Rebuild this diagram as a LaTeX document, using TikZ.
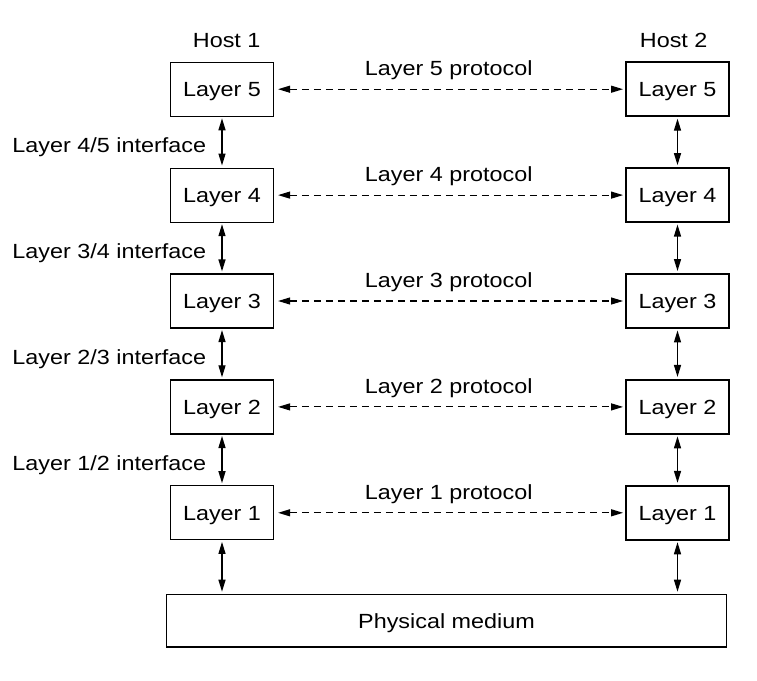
\documentclass[tikz,border=0pt]{standalone}
\usepackage{fontspec}
\setmainfont[FakeStretch=1.14]{Liberation Sans}
\usetikzlibrary{arrows.meta}
\begin{document}
\begin{tikzpicture}[x=1pt,y=-1pt,
  font=\fontsize{20.5}{24}\selectfont,
  layerbox/.style={draw, line width=1.2pt, minimum width=103pt, minimum height=54pt,
    inner sep=0pt, text height=14.7pt, text depth=0pt},
  layerboxb/.style={layerbox, line width=1.9pt},
  peer/.style={{Triangle[length=12pt,width=7pt]}-{Triangle[length=12pt,width=7pt]},
    line width=1.1pt, dash pattern=on 7pt off 5pt, shorten <=4pt, shorten >=2pt},
  iface/.style={{Triangle[length=12pt,width=7pt]}-{Triangle[length=12pt,width=7pt]},
    line width=1.3pt, shorten <=1.5pt, shorten >=2pt},
  lbl/.style={anchor=base, inner sep=0pt}]
\useasboundingbox (0,0) rectangle (757,680);

% hosts
\node[lbl] (h1) at (226.7,47.3) {Host 1};
\node[lbl] (h2) at (673.7,47.3) {Host 2};

% layer stacks
\foreach \n/\y in {5/89.2,4/195.1,3/301.0,2/406.9,1/512.8}{
  \node[layerbox]  (a\n) at (222.0,\y) {Layer \n};
  \node[layerboxb] (b\n) at (677.5,\y) {Layer \n};
}

% physical medium
\node[draw, line width=1.3pt, minimum width=559.6pt, minimum height=52.7pt,
  inner sep=0pt, text height=14.7pt, text depth=0pt] (phys) at (446.5,620.7) {Physical medium};

% peer protocols
\foreach \n/\y in {5/75.7,4/181.6,3/287.5,2/393.4,1/499.3}{
  \node[lbl] (p\n) at (448.7,\y) {Layer \n\ protocol};
  \draw[peer] (a\n.east) -- (b\n.west);
}

% interfaces
\foreach \u/\l/\y in {5/4/152.7,4/3/258.6,3/2/364.5,2/1/470.4}{
  \node[lbl, anchor=base west] (i\l) at (12.3,\y) {Layer \l/\u\ interface};
  \draw[iface] (a\u.south) -- (a\l.north);
  \draw[iface] (b\u.south) -- (b\l.north);
}

% down to the medium
\draw[iface] (a1.south) -- (a1.south |- phys.north);
\draw[iface] (b1.south) -- (b1.south |- phys.north);
\end{tikzpicture}
\end{document}
